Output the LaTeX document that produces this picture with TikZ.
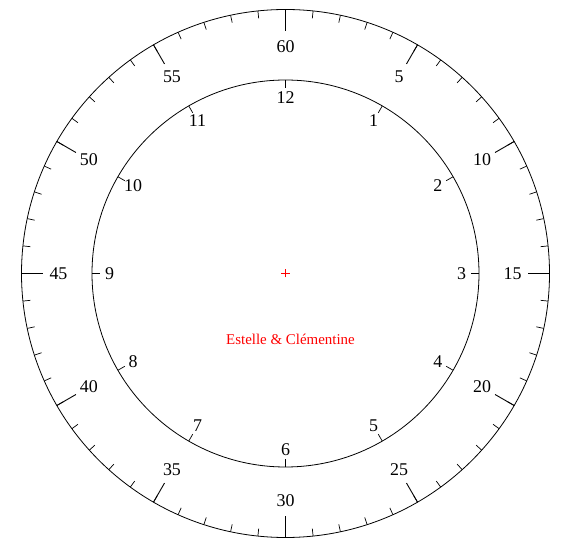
\documentclass[tikz,border=0pt]{standalone}
\usepackage{fontspec}
\setmainfont{Liberation Serif}
\begin{document}
\begin{tikzpicture}[x=1bp,y=1bp]
  \tikzset{num/.style={inner sep=0pt, font=\fontsize{18}{20}\selectfont},
           rim/.style={line width=0.8bp},
           minortick/.style={line width=0.7bp},
           majortick/.style={line width=0.9bp}}
  \useasboundingbox (-285.5,-279.5) rectangle (281.5,273.5);
  \coordinate (o) at (0,0);
  \draw[rim] (o) circle[radius=264];
  \draw[rim] (o) circle[radius=193.5];

  % minutes
  \foreach \i in {0,...,59}
    \draw[minortick] (90-6*\i:264) -- (90-6*\i:256.5);
  \foreach \i in {1,...,12} {
    \pgfmathtruncatemacro\m{5*\i}
    \draw[majortick] (90-30*\i:264) -- (90-30*\i:242);
    \node[num] (m\m) at (90-30*\i:227) {\m};
  }

  % hours
  \foreach \i in {1,...,12} {
    \draw[minortick] (90-30*\i:193.5) -- (90-30*\i:185.5);
    \node[num] (h\i) at (90-30*\i:176) {\i};
  }

  \draw[red, line width=1.1bp] (-4.5,0) -- (4.5,0) (0,-4) -- (0,4);
  \node[text=red, inner sep=0pt, font=\fontsize{15}{17}\selectfont] (names) at (5,-65.5) {Estelle \& Clémentine};
\end{tikzpicture}
\end{document}
